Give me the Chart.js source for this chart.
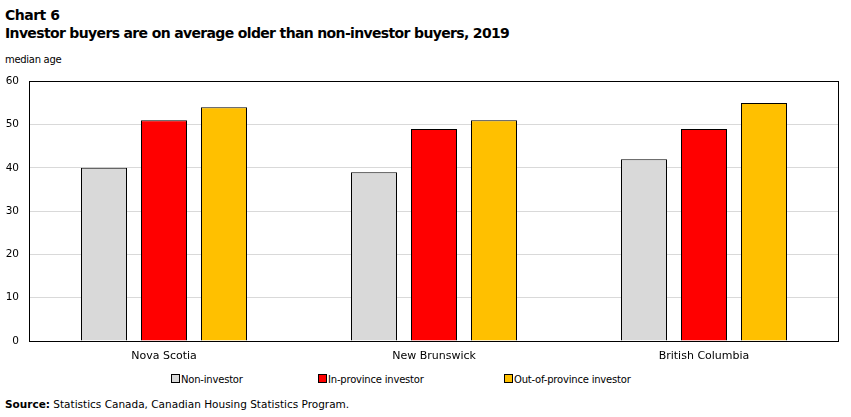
<!DOCTYPE html>
<html>
<head>
<meta charset="utf-8">
<script src="https://cdn.jsdelivr.net/npm/chart.js@4/dist/chart.umd.min.js"></script>
<style>
  html, body { margin:0; padding:0; background:#fff; }
  body { width:851px; height:417px; position:relative; overflow:hidden; font-family:"DejaVu Sans", Verdana, sans-serif; color:#000; }
  #t1 { position:absolute; left:5px; top:7px; font-weight:bold; font-size:14px; letter-spacing:-0.5px; white-space:nowrap; }
  #t2 { position:absolute; left:5px; top:25px; font-weight:bold; font-size:14px; letter-spacing:-0.65px; white-space:nowrap; }
  #unit { position:absolute; left:5px; top:54px; font-size:10px; letter-spacing:-0.3px; white-space:nowrap; }
  #wrap { position:absolute; left:0; top:65px; width:851px; height:305px; }
  #c { display:block; }
  #legend { position:absolute; top:373px; left:0; width:851px; height:16px; font-size:10px; }
  .li { position:absolute; top:0; white-space:nowrap; line-height:14px; letter-spacing:-0.2px; }
  .sw { display:inline-block; width:7px; height:7px; border:1px solid #000; margin-right:1px; vertical-align:0px; }
  #src { position:absolute; left:5px; top:398px; font-size:10.5px; white-space:nowrap; }
</style>
</head>
<body>
<div id="t1">Chart 6</div>
<div id="t2">Investor buyers are on average older than non-investor buyers, 2019</div>
<div id="unit">median age</div>
<div id="wrap"><canvas id="c" width="851" height="305"></canvas></div>
<div id="legend"></div>
<div id="src"><b>Source:</b> Statistics Canada, Canadian Housing Statistics Program.</div>
<script>
const categories = ["Nova Scotia", "New Brunswick", "British Columbia"];
const seriesNames = ["Non-investor", "In-province investor", "Out-of-province investor"];
const nonInvestor = [40, 39, 42];
const inProvince = [51, 49, 49];
const outProvince = [54, 51, 55];
const yTicks = [0, 10, 20, 30, 40, 50, 60];

const colors = ["#d9d9d9", "#ff0000", "#ffc000"];
const values = [nonInvestor, inProvince, outProvince];

const legendX = [171, 318, 504];
const lg = document.getElementById('legend');
seriesNames.forEach((n, i) => {
  const d = document.createElement('div');
  d.className = 'li';
  d.style.left = legendX[i] + 'px';
  d.innerHTML = '<span class="sw" style="background:' + colors[i] + '"></span>' + n;
  lg.appendChild(d);
});

const frame = {
  id: 'frame',
  afterDraw(chart) {
    const a = chart.chartArea, ctx = chart.ctx;
    ctx.save();
    ctx.strokeStyle = '#000';
    ctx.lineWidth = 1;
    ctx.strokeRect(Math.round(a.left) + 0.5, Math.round(a.top) + 0.5, Math.round(a.right - a.left) - 1, Math.round(a.bottom - a.top));
    ctx.restore();
  }
};

new Chart(document.getElementById('c'), {
  type: 'bar',
  data: {
    labels: categories,
    datasets: seriesNames.map((n, i) => ({
      label: n,
      data: values[i],
      backgroundColor: colors[i],
      borderColor: '#000',
      borderWidth: 1,
      categoryPercentage: 2 / 3,
      barPercentage: 46 / 60
    }))
  },
  options: {
    responsive: false,
    animation: false,
    events: [],
    layout: { padding: { left: 0, right: 12, top: 6, bottom: 0 } },
    plugins: { legend: { display: false }, tooltip: { enabled: false }, title: { display: false } },
    scales: {
      x: {
        grid: { display: false, drawTicks: false },
        border: { display: false },
        ticks: { color: '#000', font: { family: 'DejaVu Sans', size: 11 }, padding: 9, maxRotation: 0 },
        afterFit(s) { s.height = 29; }
      },
      y: {
        min: 0, max: 60,
        afterBuildTicks(s) { s.ticks = yTicks.map(v => ({ value: v })); },
        grid: { color: '#d9d9d9', drawTicks: false, lineWidth: 1 },
        border: { display: false },
        ticks: { color: '#000', font: { family: 'DejaVu Sans', size: 10.5 }, padding: 10 },
        afterFit(s) { s.width = 29; }
      }
    }
  },
  plugins: [frame]
});
</script>
</body>
</html>
